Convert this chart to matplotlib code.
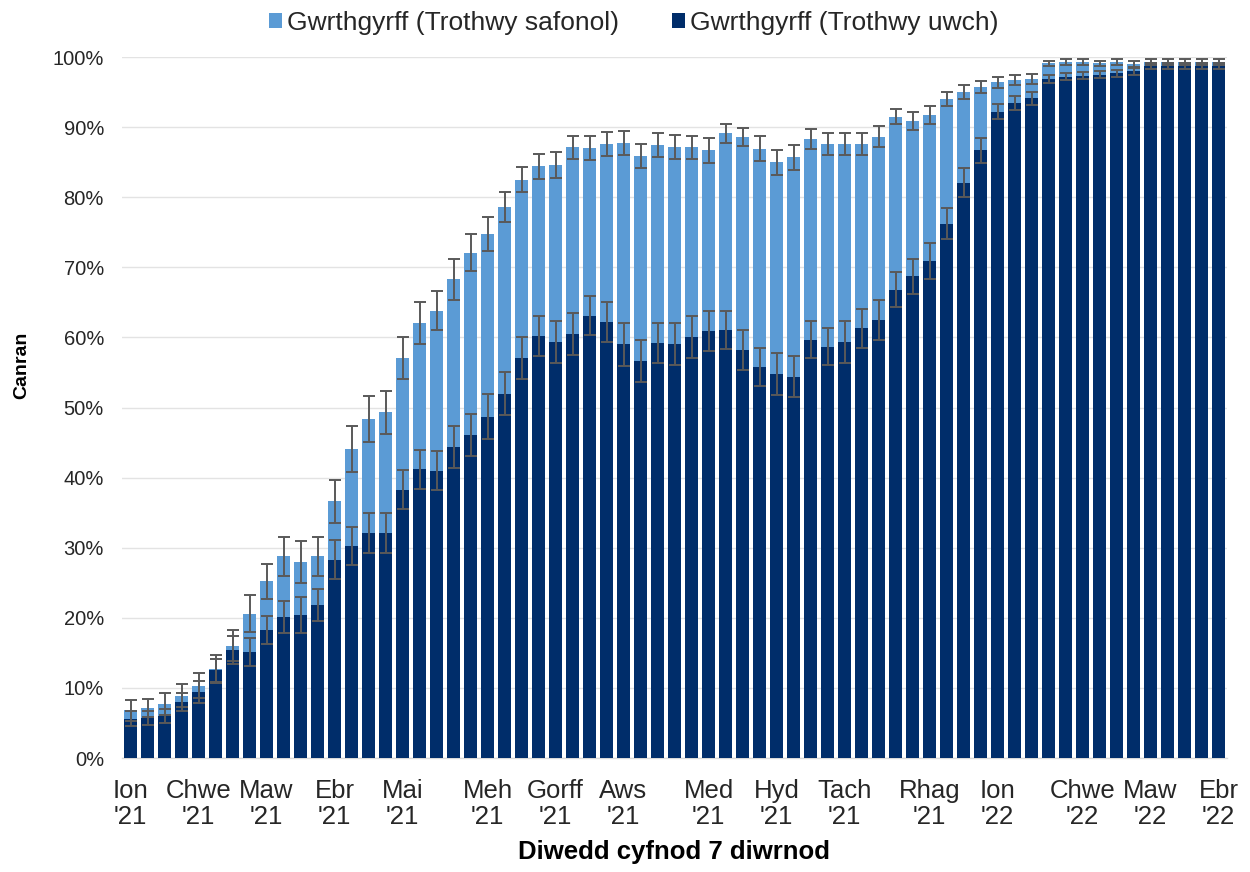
import matplotlib
matplotlib.use("Agg")
import matplotlib.pyplot as plt
import numpy as np

plt.rcParams['font.family'] = ['Liberation Sans', 'DejaVu Sans']

# ---- data ----
tick_index = [0, 4, 8, 12, 16, 21, 25, 29, 34, 38, 42, 47, 51, 56, 60, 64]
tick_labels = ["Ion\n'21", "Chwe\n'21", "Maw\n'21", "Ebr\n'21", "Mai\n'21",
               "Meh\n'21", "Gorff\n'21", "Aws\n'21", "Med\n'21", "Hyd\n'21",
               "Tach\n'21", "Rhag\n'21", "Ion\n'22", "Chwe\n'22", "Maw\n'22",
               "Ebr\n'22"]

safonol = [6.8, 7.1, 7.7, 8.9, 10.3, 12.7, 16.0, 20.6, 25.2, 28.8,
           28.0, 28.8, 36.6, 44.1, 48.4, 49.3, 57.1, 62.1, 63.8, 68.3,
           72.1, 74.8, 78.6, 82.5, 84.4, 84.6, 87.1, 87.0, 87.6, 87.7,
           85.9, 87.4, 87.2, 87.1, 86.7, 89.1, 88.6, 86.9, 85.0, 85.7,
           88.3, 87.6, 87.6, 87.6, 88.6, 91.5, 90.9, 91.7, 94.0, 95.0,
           95.7, 96.4, 96.7, 96.9, 99.1, 99.3, 99.3, 99.1, 99.3, 99.0,
           99.3, 99.3, 99.3, 99.3, 99.3]

uwch = [5.6, 5.7, 6.0, 8.0, 9.4, 12.5, 15.4, 15.1, 18.2, 20.1,
        20.4, 21.8, 28.3, 30.2, 32.1, 32.1, 38.3, 41.2, 41.0, 44.4,
        46.1, 48.7, 52.0, 57.1, 60.2, 59.3, 60.5, 63.1, 62.2, 59.0,
        56.6, 59.2, 59.0, 60.1, 60.9, 61.1, 58.2, 55.8, 54.8, 54.4,
        59.7, 58.7, 59.4, 61.3, 62.5, 66.8, 68.7, 70.9, 76.2, 82.1,
        86.7, 92.2, 93.4, 94.1, 96.9, 97.2, 97.3, 97.5, 97.7, 98.0,
        98.7, 98.7, 98.7, 98.7, 98.7]

err_safonol = [1.5, 1.3, 1.6, 1.6, 1.8, 2.0, 2.2, 2.6, 2.5, 2.8,
               3.0, 2.8, 3.1, 3.3, 3.3, 3.1, 3.0, 3.0, 2.8, 2.9,
               2.6, 2.4, 2.1, 1.8, 1.8, 1.9, 1.7, 1.7, 1.7, 1.7,
               1.7, 1.7, 1.7, 1.7, 1.8, 1.3, 1.3, 1.8, 1.8, 1.8,
               1.4, 1.6, 1.6, 1.6, 1.5, 1.1, 1.3, 1.3, 1.0, 1.0,
               0.9, 0.8, 0.7, 0.7, 0.4, 0.4, 0.4, 0.4, 0.4, 0.4,
               0.4, 0.4, 0.4, 0.4, 0.4]

err_uwch = [1.1, 1.0, 1.0, 1.3, 1.6, 1.6, 2.0, 2.0, 2.0, 2.3,
            2.6, 2.3, 2.8, 2.7, 2.8, 2.8, 2.8, 2.8, 2.8, 3.0,
            3.0, 3.2, 3.1, 3.0, 2.8, 3.0, 3.0, 2.8, 2.9, 3.1,
            3.0, 2.9, 3.0, 3.0, 2.9, 2.7, 2.8, 2.7, 3.0, 2.9,
            2.7, 2.7, 3.0, 2.8, 2.8, 2.5, 2.5, 2.5, 2.2, 2.1,
            1.8, 1.1, 1.0, 0.9, 0.6, 0.5, 0.5, 0.5, 0.5, 0.5,
            0.4, 0.4, 0.4, 0.4, 0.4]

# ---- plot ----
light = '#5B9BD5'
dark = '#002D6A'
errc = '#595959'

fig = plt.figure(figsize=(12.5, 8.72), dpi=100)
ax = fig.add_axes([0.0976, 0.1307, 0.8840, 0.8039])

x = np.arange(len(safonol))
s = np.array(safonol) / 100
u = np.array(uwch) / 100
es = np.array(err_safonol) / 100
eu = np.array(err_uwch) / 100

ax.bar(x, s, width=0.79, color=light, zorder=2, label='Gwrthgyrff (Trothwy safonol)')
ax.bar(x, u, width=0.79, color=dark, zorder=3, label='Gwrthgyrff (Trothwy uwch)')
ax.errorbar(x, s, yerr=es, fmt='none', ecolor=errc, elinewidth=1.4,
            capsize=4.3, capthick=1.4, zorder=4)
ax.errorbar(x, u, yerr=eu, fmt='none', ecolor=errc, elinewidth=1.4,
            capsize=4.3, capthick=1.4, zorder=4)

ax.set_xlim(-0.5, len(safonol) - 0.5)
ax.set_ylim(0, 1.0)
ax.set_yticks(np.arange(0, 1.01, 0.1))
ax.set_yticklabels([f"{int(round(v*100))}%" for v in np.arange(0, 1.01, 0.1)])
ax.set_xticks(tick_index)
ax.set_xticklabels(tick_labels, linespacing=1.12, fontsize=18.5)

ax.grid(axis='y', color='#E3E3E3', linewidth=1.0, zorder=0)
ax.set_axisbelow(True)
for sp in ['top', 'right', 'left']:
    ax.spines[sp].set_visible(False)
ax.spines['bottom'].set_color('#D9D9D9')
ax.spines['bottom'].set_linewidth(1.0)
ax.tick_params(axis='both', length=0, colors='#262626')
ax.tick_params(axis='y', pad=13, labelsize=14.5)
ax.tick_params(axis='x', pad=15)

ax.set_ylabel('Canran', fontsize=14, fontweight='bold', color='#000000')
ax.yaxis.set_label_coords(-0.083, 0.56)
ax.set_xlabel('Diwedd cyfnod 7 diwrnod', fontsize=18.5, fontweight='bold', labelpad=8, color='#000000')

fig.legend(loc='center', bbox_to_anchor=(0.507, 0.974), ncol=2, frameon=False,
           fontsize=19, handlelength=0.5, handleheight=0.5, handletextpad=0.2,
           columnspacing=2.0, labelcolor='#262626')

fig.savefig('out.png', dpi=100, facecolor='white')
